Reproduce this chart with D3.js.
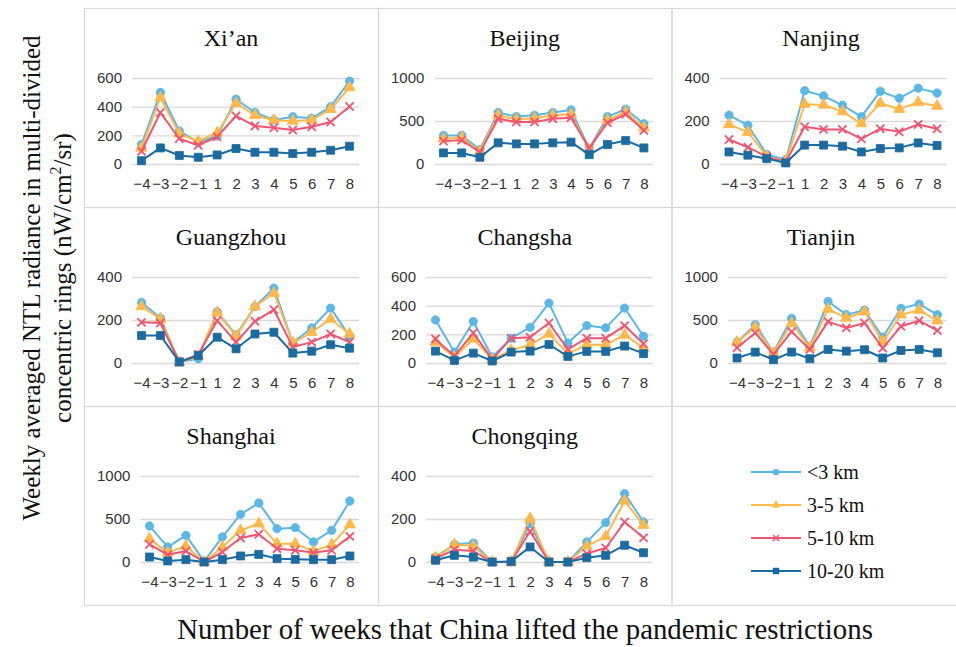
<!DOCTYPE html>
<html>
<head>
<meta charset="utf-8">
<script src="https://cdn.jsdelivr.net/npm/d3@7"></script>
<style>
  html, body { margin: 0; padding: 0; background: #fff; }
  svg { display: block; }
</style>
</head>
<body>
<svg id="chart" width="956" height="647"></svg>
<script>
// ---------- data ----------
const weeks = ["−4", "−3", "−2", "−1", "1", "2", "3", "4", "5", "6", "7", "8"];
const rings = ["<3 km", "3-5 km", "5-10 km", "10-20 km"];
const ringColors = ["#5BB7E6", "#FFB84A", "#F05673", "#1B6BA0"];
const ringSymbols = ["circle", "triangle", "x", "square"];
const cities = ["Xi’an", "Beijing", "Nanjing", "Guangzhou", "Changsha", "Tianjin", "Shanghai", "Chongqing"];
const cityYMax = [600, 1000, 400, 400, 600, 1000, 1000, 400];
const cityYStep = [200, 500, 200, 200, 200, 500, 500, 200];

// each city: [<3 km, 3-5 km, 5-10 km, 10-20 km]
const xian = [
  [136, 499, 230, 152, 195, 452, 359, 307, 330, 319, 400, 578],
  [112, 464, 211, 159, 218, 424, 340, 305, 300, 307, 382, 534],
  [89, 359, 176, 131, 190, 335, 265, 253, 237, 260, 293, 401],
  [23, 112, 59, 47, 63, 108, 82, 82, 73, 82, 96, 124]
];
const beijing = [
  [332, 332, 168, 598, 551, 566, 598, 629, 180, 551, 637, 469],
  [293, 305, 148, 566, 520, 531, 566, 578, 168, 512, 605, 422],
  [266, 277, 137, 527, 488, 488, 527, 539, 187, 480, 578, 391],
  [129, 129, 78, 246, 234, 234, 246, 254, 109, 227, 273, 187]
];
const nanjing = [
  [227, 180, 44, 20, 341, 317, 273, 220, 338, 306, 353, 330],
  [184, 148, 36, 12, 278, 275, 244, 188, 283, 255, 286, 270],
  [114, 78, 33, 9, 173, 161, 161, 117, 164, 150, 184, 164],
  [56, 41, 25, 5, 88, 88, 83, 56, 72, 75, 98, 86]
];
const guangzhou = [
  [282, 209, 5, 20, 238, 131, 263, 348, 94, 163, 255, 125],
  [263, 205, 2, 32, 235, 125, 263, 325, 94, 143, 205, 135],
  [189, 186, 5, 40, 197, 97, 194, 248, 74, 97, 135, 97],
  [128, 128, 5, 35, 120, 66, 135, 143, 46, 55, 85, 69]
];
const changsha = [
  [300, 76, 289, 42, 173, 249, 418, 139, 261, 245, 383, 187],
  [145, 42, 168, 25, 88, 127, 203, 65, 127, 127, 196, 104],
  [168, 48, 210, 25, 173, 180, 279, 95, 173, 173, 261, 134],
  [83, 18, 69, 14, 76, 83, 129, 46, 81, 81, 118, 65]
];
const tianjin = [
  [242, 446, 127, 519, 192, 715, 562, 615, 300, 635, 685, 562],
  [242, 415, 115, 462, 177, 627, 523, 596, 250, 562, 615, 492],
  [177, 350, 100, 365, 158, 481, 408, 465, 173, 427, 492, 377],
  [58, 127, 38, 127, 50, 158, 138, 154, 58, 146, 158, 119]
];
const shanghai = [
  [419, 174, 310, 8, 291, 554, 686, 388, 399, 233, 368, 709],
  [271, 109, 186, 0, 174, 368, 446, 213, 213, 124, 202, 434],
  [205, 85, 128, 0, 116, 279, 322, 155, 136, 109, 136, 298],
  [58, 12, 27, 0, 27, 70, 89, 39, 31, 27, 27, 70]
];
const chongqing = [
  [23, 82, 88, 0, 0, 178, 0, 0, 93, 183, 318, 186],
  [19, 81, 74, 0, 0, 202, 0, 0, 74, 119, 284, 171],
  [16, 57, 51, 0, 0, 143, 0, 0, 39, 65, 186, 113],
  [8, 31, 23, 0, 3, 70, 0, 0, 20, 31, 78, 43]
];
const cityValues = [xian, beijing, nanjing, guangzhou, changsha, tianjin, shanghai, chongqing];

const yTitleLines = ["Weekly averaged NTL radiance in multi-divided", "concentric rings (nW/cm"];
const xTitle = "Number of weeks that China lifted the pandemic restrictions";

// ---------- layout ----------
const svg = d3.select("#chart");
const colLefts = [84, 378, 671.5];
const colRights = [378, 671.5, 970];
const rowTops = [8, 207, 406];
const rowBottoms = [207, 406, 605];
const gridColor = "#D9D9D9";
const tickFont = "'Liberation Sans', Arial, sans-serif";
const tickSize = 15;
const serif = "'Liberation Serif', 'Times New Roman', serif";

// panel borders (including the legend cell)
for (let r = 0; r < 3; r++) {
  for (let c = 0; c < 3; c++) {
    svg.append("rect")
      .attr("x", colLefts[c] + 0.5).attr("y", rowTops[r] + 0.5)
      .attr("width", colRights[c] - colLefts[c]).attr("height", rowBottoms[r] - rowTops[r])
      .attr("fill", "none").attr("stroke", gridColor).attr("stroke-width", 1.2);
  }
}

function symbolPath(kind, size) {
  const t = { circle: d3.symbolCircle, triangle: d3.symbolTriangle, x: d3.symbolX, square: d3.symbolSquare }[kind];
  return d3.symbol().type(t).size(size)();
}

function measure(text, font, size) {
  const t = svg.append("text").attr("font-family", font).attr("font-size", size).text(text);
  const w = t.node().getComputedTextLength();
  t.remove();
  return w;
}

cities.forEach((city, i) => {
  const r = Math.floor(i / 3), c = i % 3;
  const px0 = colLefts[c], px1 = colRights[c];
  const top = rowTops[r];
  const yMax = cityYMax[i], step = cityYStep[i];
  const ticks = d3.range(0, yMax + 1, step);
  const labW = d3.max(ticks, t => measure(String(t), tickFont, tickSize));
  const plotL = px0 + 14 + labW + 9;
  const plotR = Math.min(px0 + 275, 948);
  const g = svg.append("g");

  const x = d3.scalePoint().domain(weeks).range([plotL, plotR]).padding(0.5);
  const y = d3.scaleLinear().domain([0, yMax]).range([top + 156, top + 70]);

  // title
  g.append("text").attr("x", c === 2 ? 821 : (px0 + px1) / 2).attr("y", top + 38)
    .attr("text-anchor", "middle").attr("font-family", serif).attr("font-size", 24)
    .attr("fill", "#111").text(city);

  // y axis (gridlines + labels)
  const yAxis = d3.axisLeft(y).tickValues(ticks).tickFormat(d3.format("d"))
    .tickSize(-(plotR - plotL)).tickPadding(10);
  const ya = g.append("g").attr("transform", `translate(${plotL},0)`).call(yAxis);
  ya.select(".domain").remove();
  ya.selectAll(".tick line").attr("stroke", gridColor).attr("stroke-width", 1.3);
  ya.selectAll(".tick text").attr("font-family", tickFont).attr("font-size", tickSize).attr("fill", "#333");

  // x axis labels
  const xAxis = d3.axisBottom(x).tickSize(0).tickPadding(0);
  const xa = g.append("g").attr("transform", `translate(0,${top + 168})`).call(xAxis);
  xa.select(".domain").remove();
  xa.selectAll(".tick text").attr("font-family", tickFont).attr("font-size", tickSize).attr("fill", "#333")
    .attr("dy", "0.85em");

  // series
  const line = d3.line().x((d, k) => x(weeks[k])).y(d => y(d));
  cityValues[i].forEach((vals, s) => {
    g.append("path").datum(vals).attr("d", line)
      .attr("fill", "none").attr("stroke", ringColors[s]).attr("stroke-width", 2)
      .attr("stroke-linejoin", "round");
    const sizes = [55, 55, 45, 64];
    g.selectAll(null).data(vals).join("path")
      .attr("transform", (d, k) => `translate(${x(weeks[k])},${y(d)})`)
      .attr("d", symbolPath(ringSymbols[s], sizes[s]))
      .attr("fill", ringSymbols[s] === "x" ? "none" : ringColors[s])
      .attr("stroke", ringColors[s])
      .attr("stroke-width", ringSymbols[s] === "x" ? 1.8 : 0.8);
  });
});

// legend
const legendY = [472, 505, 538, 571];
rings.forEach((name, s) => {
  const lg = svg.append("g");
  lg.append("line").attr("x1", 751).attr("x2", 801).attr("y1", legendY[s]).attr("y2", legendY[s])
    .attr("stroke", ringColors[s]).attr("stroke-width", 2);
  lg.append("path").attr("transform", `translate(776,${legendY[s]})`)
    .attr("d", symbolPath(ringSymbols[s], [30, 26, 26, 36][s]))
    .attr("fill", ringSymbols[s] === "x" ? "none" : ringColors[s])
    .attr("stroke", ringColors[s]).attr("stroke-width", ringSymbols[s] === "x" ? 1.5 : 0.5);
  lg.append("text").attr("x", 807).attr("y", legendY[s] + 7)
    .attr("font-family", serif).attr("font-size", 20).attr("fill", "#111").text(name);
});

// axis titles
svg.append("text").attr("x", 525).attr("y", 639).attr("text-anchor", "middle")
  .attr("font-family", serif).attr("font-size", 28.8).attr("fill", "#111").text(xTitle);

const yt = svg.append("g").attr("transform", "translate(40,278) rotate(-90)");
yt.append("text").attr("x", 0).attr("y", 0).attr("text-anchor", "middle")
  .attr("font-family", serif).attr("font-size", 25).attr("fill", "#111").text(yTitleLines[0]);
const l2 = yt.append("text").attr("x", 0).attr("y", 31).attr("text-anchor", "middle")
  .attr("font-family", serif).attr("font-size", 25).attr("fill", "#111");
l2.append("tspan").text(yTitleLines[1]);
l2.append("tspan").attr("font-size", 16).attr("dy", -10).text("2");
l2.append("tspan").attr("dy", 10).text("/sr)");
</script>
</body>
</html>
